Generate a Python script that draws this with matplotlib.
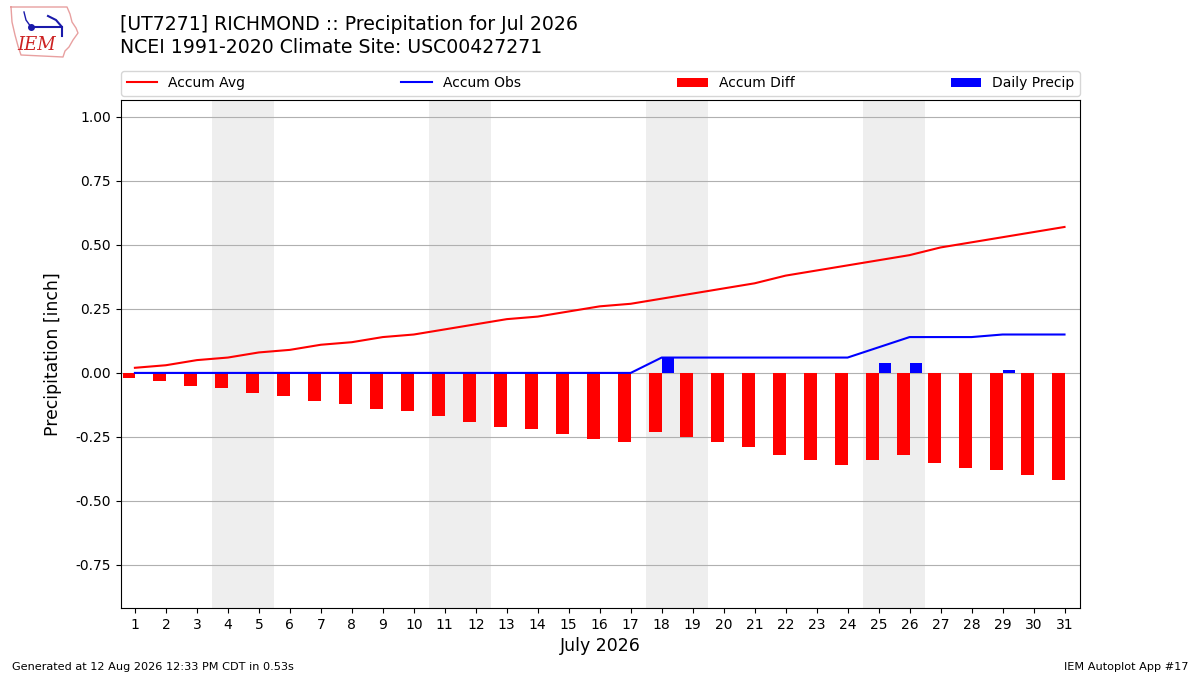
"""Accumulated precipitation vs climatology for one month at one site."""
import matplotlib

matplotlib.use("Agg")
import matplotlib.pyplot as plt
from matplotlib.lines import Line2D

# Day of month, July 2026
DAYS = list(range(1, 32))

# Accumulated climatology (inch)
ACCUM_AVG = [0.02, 0.03, 0.05, 0.06, 0.08, 0.09, 0.11, 0.12, 0.14, 0.15,
             0.17, 0.19, 0.21, 0.22, 0.24, 0.26, 0.27, 0.29, 0.31, 0.33,
             0.35, 0.38, 0.40, 0.42, 0.44, 0.46, 0.49, 0.51, 0.53, 0.55,
             0.57]

# Accumulated observed (inch)
ACCUM_OBS = [0.00, 0.00, 0.00, 0.00, 0.00, 0.00, 0.00, 0.00, 0.00, 0.00,
             0.00, 0.00, 0.00, 0.00, 0.00, 0.00, 0.00, 0.06, 0.06, 0.06,
             0.06, 0.06, 0.06, 0.06, 0.10, 0.14, 0.14, 0.14, 0.15, 0.15,
             0.15]

# Accumulated departure (inch)
ACCUM_DIFF = [-0.02, -0.03, -0.05, -0.06, -0.08, -0.09, -0.11, -0.12,
              -0.14, -0.15, -0.17, -0.19, -0.21, -0.22, -0.24, -0.26,
              -0.27, -0.23, -0.25, -0.27, -0.29, -0.32, -0.34, -0.36,
              -0.34, -0.32, -0.35, -0.37, -0.38, -0.40, -0.42]

# Daily observed precipitation (inch)
DAILY_PRECIP = [0.00, 0.00, 0.00, 0.00, 0.00, 0.00, 0.00, 0.00, 0.00, 0.00,
                0.00, 0.00, 0.00, 0.00, 0.00, 0.00, 0.00, 0.06, 0.00, 0.00,
                0.00, 0.00, 0.00, 0.00, 0.04, 0.04, 0.00, 0.00, 0.01, 0.00,
                0.00]

# Saturdays of the month (weekend shading covers Sat + Sun)
SATURDAYS = [4, 11, 18, 25]

Y_TICKS = [-0.75, -0.50, -0.25, 0.00, 0.25, 0.50, 0.75, 1.00]

TITLE = ("[UT7271] RICHMOND :: Precipitation for Jul 2026\n"
         "NCEI 1991-2020 Climate Site: USC00427271")

W, H = 1200, 675


def _px(x, y):
    """Pixel position (from top left) to figure fraction."""
    return x / W, 1 - y / H


def _draw_logo(fig):
    outline = [(11, 7), (67, 7), (70, 14), (72, 22), (76, 28), (78, 33),
               (73, 40), (69, 47), (65, 51), (63, 57), (21, 55), (18, 46),
               (15, 35), (12, 22), (11, 7)]
    xs, ys = zip(*[_px(x, y) for x, y in outline])
    fig.add_artist(Line2D(xs, ys, transform=fig.transFigure,
                          color="#e8a0a0", lw=1))
    vx, vy = zip(*[_px(x, y) for x, y in [(31, 27), (62, 27)]])
    fig.add_artist(Line2D(vx, vy, transform=fig.transFigure,
                          color="#1a1aaa", lw=1.5))
    fig.add_artist(Line2D([_px(31, 27)[0]], [_px(31, 27)[1]],
                          transform=fig.transFigure, marker="o",
                          markersize=4, color="#1a1aaa"))
    sx, sy = zip(*[_px(x, y) for x, y in [(24, 12), (26, 20), (31, 27)]])
    fig.add_artist(Line2D(sx, sy, transform=fig.transFigure,
                          color="#1a1aaa", lw=1))
    bx, by = zip(*[_px(x, y) for x, y in [(48, 16), (56, 20), (62, 27),
                                          (62, 36)]])
    fig.add_artist(Line2D(bx, by, transform=fig.transFigure,
                          color="#1a1aaa", lw=1.5))
    lx, ly = _px(37, 45)
    fig.text(lx, ly, "IEM", fontsize=13, color="#cc2222",
             family="DejaVu Serif", style="italic", ha="center",
             va="center")


fig = plt.figure(figsize=(12, 6.75), dpi=100)
ax = fig.add_axes([0.1008, 0.0993, 0.7992, 0.7526])

for sat in SATURDAYS:
    ax.axvspan(sat - 0.5, sat + 1.5, color="#EEEEEE", zorder=0, lw=0)

ax.plot(DAYS, ACCUM_AVG, color="r", lw=1.5, label="Accum Avg", zorder=3)
ax.plot(DAYS, ACCUM_OBS, color="b", lw=1.5, label="Accum Obs", zorder=3)
ax.bar(DAYS, ACCUM_DIFF, width=-0.4, align="edge", color="r",
       label="Accum Diff", zorder=2)
ax.bar(DAYS, DAILY_PRECIP, width=0.4, align="edge", color="b",
       label="Daily Precip", zorder=2)

ax.set_xlim(0.55, 31.5)
ax.set_ylim(-0.918, 1.066)
ax.set_xticks(DAYS)
ax.set_yticks(Y_TICKS)
ax.set_yticklabels([f"{v:.2f}" for v in Y_TICKS])
ax.tick_params(labelsize=10)
ax.yaxis.grid(True, color="#b0b0b0", lw=0.8)
ax.set_axisbelow(True)
ax.set_xlabel("July 2026", fontsize=12.5)
ax.set_ylabel("Precipitation [inch]", fontsize=12.4, labelpad=10)

ax.legend(ncol=4, loc="lower left", mode="expand",
          bbox_to_anchor=(0, 1.008, 1, 0.05), fontsize=10,
          borderaxespad=0, handlelength=2.2)

fig.text(0.1, 0.978, TITLE, fontsize=13.6, va="top", ha="left",
         linespacing=1.3)

_draw_logo(fig)

fig.text(0.01, 0.004, "Generated at 12 Aug 2026 12:33 PM CDT in 0.53s",
         fontsize=8.1, ha="left", va="bottom")
fig.text(0.99, 0.004, "IEM Autoplot App #17", fontsize=8.1, ha="right",
         va="bottom")

fig.savefig("out.png", dpi=100)
